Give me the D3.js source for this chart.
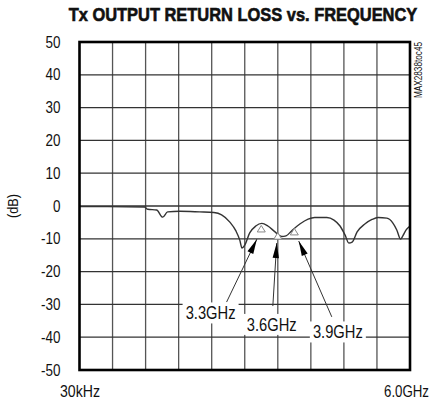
<!DOCTYPE html>
<html>
<head>
<meta charset="utf-8">
<script src="https://cdn.jsdelivr.net/npm/d3@7"></script>
<style>
  html, body { margin: 0; padding: 0; background: #fff; }
  svg { display: block; }
  text { font-family: "Liberation Sans", Arimo, Arial, sans-serif; fill: #111; }
</style>
</head>
<body>
<svg id="chart" width="431" height="404"></svg>
<script>
// Return loss trace: frequency (GHz) and return loss (dB)
const freqGHz = [0.00003, 0.51, 1.18, 1.24, 1.40, 1.51, 1.60, 1.82, 2.18, 2.44, 2.58, 2.73, 2.84, 2.91, 2.95, 3.00, 3.09, 3.20, 3.31, 3.42, 3.55, 3.67, 3.75, 3.85, 4.00, 4.15, 4.27, 4.49, 4.62, 4.73, 4.82, 4.89, 4.95, 5.04, 5.18, 5.31, 5.42, 5.58, 5.69, 5.76, 5.83, 5.87, 5.93, 6.00];
const lossDB  = [-0.2, -0.2, -0.3, -1.0, -1.2, -3.4, -1.8, -1.6, -1.8, -2.0, -2.7, -4.9, -7.6, -10.4, -12.8, -11.9, -8.2, -6.1, -5.3, -6.1, -7.9, -9.3, -9.1, -7.6, -5.5, -4.0, -3.5, -3.5, -4.3, -6.1, -8.8, -11.3, -11.0, -7.9, -5.5, -4.1, -3.5, -3.7, -5.2, -7.3, -10.1, -9.1, -7.3, -6.1];

// Marker triangles on the trace
const markerFreq = [3.3, 3.6, 3.9];
const markerDB   = [-7.0, -9.2, -7.9];

// Callout labels with arrow tails and tips (frequency GHz, dB)
const calloutText    = ["3.3GHz", "3.6GHz", "3.9GHz"];
const calloutLabelF  = [2.38, 3.49, 4.69];
const calloutLabelDB = [-32.6, -36.1, -38.4];
const arrowTailF     = [2.67, 3.51, 4.58];
const arrowTailDB    = [-29.3, -30.5, -33.8];
const arrowTipF      = [3.22, 3.58, 3.98];
const arrowTipDB     = [-10.1, -11.3, -10.7];

// Axis ticks
const yTicks = [50, 40, 30, 20, 10, 0, -10, -20, -30, -40, -50];
const xGridDivisions = 10;
const xEndLabels = ["30kHz", "6.0GHz"];

const svg = d3.select("#chart");
const plot = { left: 79.5, right: 410, top: 42, bottom: 370 };

const x = d3.scaleLinear().domain([0.00003, 6.0]).range([plot.left, plot.right]);
const y = d3.scaleLinear().domain([-50, 50]).range([plot.bottom, plot.top]);

// Condense a text horizontally (narrow typeface look)
function narrow(sel, factor) {
  sel.each(function () {
    const w = this.getComputedTextLength();
    d3.select(this).attr("textLength", w * factor).attr("lengthAdjust", "spacingAndGlyphs");
  });
  return sel;
}

// Text placed at (tx, ty) and squeezed horizontally to a target width
function squeezedText(tx, ty, anchor, size, weight, str, targetWidth) {
  const g = svg.append("g");
  const t = g.append("text").attr("text-anchor", anchor)
    .style("font-size", size + "px").style("font-weight", weight).text(str);
  const w = t.node().getComputedTextLength();
  g.attr("transform", `translate(${tx},${ty}) scale(${targetWidth / w},1)`);
  return t;
}

// Title
squeezedText(243, 20.5, "middle", 18, "bold", "Tx OUTPUT RETURN LOSS vs. FREQUENCY", 349)
  .style("stroke", "#111").style("stroke-width", 0.6);

// Grid
const grid = svg.append("g");
const xGridVals = d3.range(1, xGridDivisions).map(i => x.domain()[0] + i * (x.domain()[1] - x.domain()[0]) / xGridDivisions);
grid.selectAll("line.v").data(xGridVals).enter().append("line")
  .attr("x1", d => x(d)).attr("x2", d => x(d))
  .attr("y1", plot.top).attr("y2", plot.bottom)
  .attr("stroke", "#555").attr("stroke-width", 1.3);
grid.selectAll("line.h").data(yTicks.slice(1, -1)).enter().append("line")
  .attr("x1", plot.left).attr("x2", plot.right)
  .attr("y1", d => y(d)).attr("y2", d => y(d))
  .attr("stroke", "#333").attr("stroke-width", 1.3);

// Y axis labels
const yAxis = d3.axisLeft(y).tickValues(yTicks).tickSize(0).tickPadding(19).tickFormat(d => String(d));
const yg = svg.append("g").attr("transform", `translate(${plot.left},0)`).call(yAxis);
yg.select(".domain").remove();
yg.selectAll("text").style("font-size", "16px").attr("fill", "#111")
  .style("font-family", "'Liberation Sans', Arimo, Arial, sans-serif");
narrow(yg.selectAll("text"), 0.84);

// X end labels
squeezedText(60, 397, "start", 16.5, "normal", xEndLabels[0], 40);
squeezedText(429, 397, "end", 16.5, "normal", xEndLabels[1], 45);

// Y axis title
narrow(svg.append("text")
  .attr("transform", "translate(18,206) rotate(-90)")
  .attr("text-anchor", "middle")
  .style("font-size", "15px").text("(dB)"), 0.85);

// Side code
svg.append("text")
  .attr("transform", "translate(422,70) rotate(-90)")
  .attr("text-anchor", "middle")
  .attr("textLength", 56).attr("lengthAdjust", "spacingAndGlyphs")
  .style("font-size", "10px")
  .text("MAX2838toc45");

// Trace
const traceData = freqGHz.map((f, i) => [f, lossDB[i]]);
svg.append("path")
  .datum(traceData)
  .attr("fill", "none").attr("stroke", "#333").attr("stroke-width", 1.4)
  .attr("d", d3.line().x(d => x(d[0])).y(d => y(d[1])).curve(d3.curveMonotoneX));

// Marker triangles
svg.selectAll("path.marker").data(markerFreq).enter().append("path")
  .attr("transform", (d, i) => `translate(${x(d)},${y(markerDB[i])})`)
  .attr("d", "M0,-3.5 L4,3 L-4,3 Z")
  .attr("fill", "#fff").attr("stroke", "#888").attr("stroke-width", 1);

// Frame
svg.append("rect")
  .attr("x", plot.left).attr("y", plot.top)
  .attr("width", plot.right - plot.left).attr("height", plot.bottom - plot.top)
  .attr("fill", "none").attr("stroke", "#000").attr("stroke-width", 2.6);

// Callouts: label boxes, arrow lines and heads
const callouts = calloutText.map((t, i) => ({
  t,
  lx: x(calloutLabelF[i]), ly: y(calloutLabelDB[i]),
  x0: x(arrowTailF[i]), y0: y(arrowTailDB[i]),
  x1: x(arrowTipF[i]), y1: y(arrowTipDB[i])
}));
const cg = svg.append("g");
callouts.forEach(c => {
  cg.append("line")
    .attr("x1", c.x0).attr("y1", c.y0).attr("x2", c.x1).attr("y2", c.y1)
    .attr("stroke", "#333").attr("stroke-width", 1);
  const ang = Math.atan2(c.y1 - c.y0, c.x1 - c.x0);
  const len = 15, half = 3.2;
  const bx = c.x1 - len * Math.cos(ang), by = c.y1 - len * Math.sin(ang);
  const px = -Math.sin(ang) * half, py = Math.cos(ang) * half;
  cg.append("path")
    .attr("d", `M${c.x1},${c.y1} L${bx + px},${by + py} L${bx - px},${by - py} Z`)
    .attr("fill", "#000");
  const w = 56, h = 21;
  cg.append("rect")
    .attr("x", c.lx - w / 2).attr("y", c.ly - h / 2).attr("width", w).attr("height", h)
    .attr("fill", "#fff");
  narrow(cg.append("text")
    .attr("x", c.lx).attr("y", c.ly + 6.5)
    .attr("text-anchor", "middle")
    .style("font-size", "17.5px").text(c.t), 0.84);
});
</script>
</body>
</html>
